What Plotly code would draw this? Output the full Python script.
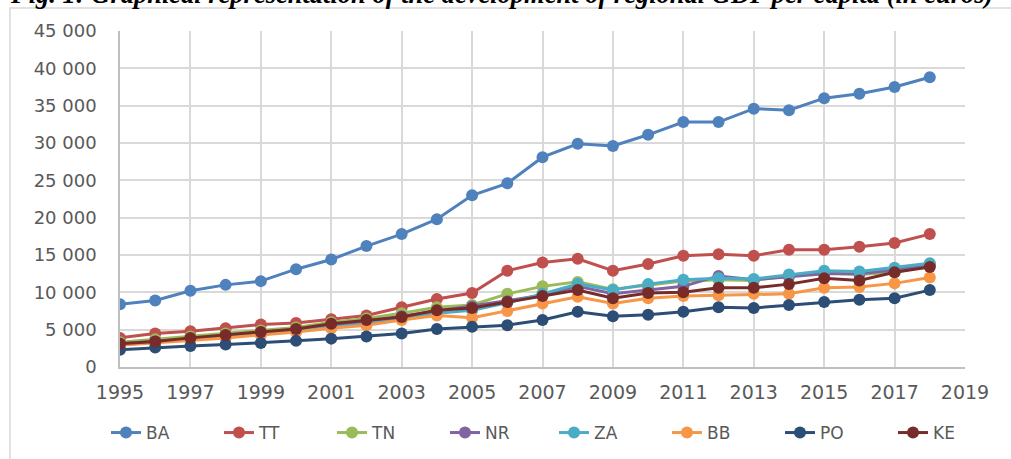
import plotly.graph_objects as go

years = list(range(1995, 2019))
BA = [8400, 8900, 10200, 11000, 11500, 13100, 14400, 16200, 17800, 19800, 23000, 24600, 28100, 29900, 29600, 31100, 32800, 32800, 34600, 34400, 36000, 36600, 37500, 38800]
TT = [3900, 4500, 4800, 5200, 5700, 5900, 6400, 6900, 8000, 9100, 9900, 12900, 14000, 14500, 12900, 13800, 14900, 15100, 14900, 15700, 15700, 16100, 16600, 17800]
TN = [3300, 3700, 4100, 4500, 4900, 5300, 6000, 6500, 7200, 8000, 8300, 9800, 10800, 11400, 10400, 10900, 11500, 11700, 11600, 12200, 12600, 12400, 12700, 13600]
NR = [3100, 3400, 3800, 4200, 4600, 5000, 5600, 6100, 6800, 7500, 8100, 8800, 9600, 10800, 9800, 10300, 10800, 12200, 11700, 12100, 12500, 12500, 13000, 13700]
ZA = [3000, 3300, 3700, 4000, 4400, 4800, 5300, 5800, 6500, 7200, 7600, 8600, 9800, 11100, 10300, 11100, 11700, 11900, 11800, 12400, 12900, 12800, 13300, 13900]
BB = [2900, 3200, 3600, 3900, 4300, 4700, 5200, 5600, 6300, 6900, 6600, 7500, 8500, 9400, 8500, 9200, 9500, 9600, 9800, 9800, 10600, 10700, 11200, 12000]
PO = [2300, 2600, 2800, 3000, 3200, 3500, 3800, 4100, 4500, 5100, 5400, 5600, 6300, 7400, 6800, 7000, 7400, 8000, 7900, 8300, 8700, 9000, 9200, 10300]
KE = [3100, 3400, 3900, 4300, 4700, 5100, 5800, 6300, 6700, 7600, 7900, 8700, 9500, 10300, 9200, 9900, 10000, 10600, 10600, 11100, 11900, 11600, 12700, 13400]

series = [("BA", BA, "#4F81BD"), ("TT", TT, "#C0504D"), ("TN", TN, "#9BBB59"),
          ("NR", NR, "#8064A2"), ("ZA", ZA, "#4BACC6"), ("BB", BB, "#F79646"),
          ("PO", PO, "#2C4D75"), ("KE", KE, "#772C2A")]

title_text = "Fig. 1: Graphical representation of the development of regional GDP per capita (in euros)"

fig = go.Figure()
for i, (name, vals, col) in enumerate(series):
    fig.add_trace(go.Scatter(x=years, y=vals, name=name, mode="lines+markers",
                             legend="legend" if i < 4 else "legend2",
                             line=dict(color=col, width=3),
                             marker=dict(color=col, size=12, symbol="circle")))

W, H = 1011, 459
L, R, T, B = 120, 46, 31, 92
pw, ph = W - L - R, H - T - B

def px_x(p):
    return (p - L) / pw

def px_y(p):
    return (H - B - p) / ph

leg_font = dict(family="DejaVu Sans", size=17, color="#595959")
leg_common = dict(orientation="h", xanchor="left", y=px_y(433), yanchor="middle",
                  entrywidth=68, entrywidthmode="pixels", font=leg_font,
                  bgcolor="rgba(0,0,0,0)", borderwidth=0)

fig.update_layout(
    width=W, height=H,
    margin=dict(l=L, r=R, t=T, b=B, autoexpand=False),
    paper_bgcolor="white", plot_bgcolor="white",
    separators=". ",
    font=dict(family="DejaVu Sans", size=17, color="#595959"),
    showlegend=True,
    legend=dict(x=px_x(106), **leg_common),
    legend2=dict(x=px_x(106 + 448), **leg_common),
    xaxis=dict(range=[1995, 2019], tick0=1995, dtick=2, showgrid=True,
               gridcolor="#d9d9d9", gridwidth=1.5, showline=True,
               linecolor="#bfbfbf", linewidth=1.5, ticks="", zeroline=False,
               ticklabelstandoff=7,
               tickfont=dict(family="DejaVu Sans", size=19, color="#595959")),
    yaxis=dict(range=[0, 45000], dtick=5000, tickformat=",d", showgrid=True,
               gridcolor="#d9d9d9", gridwidth=1.5, showline=True,
               linecolor="#bfbfbf", linewidth=1.5, ticks="", zeroline=False,
               ticklabelstandoff=18,
               tickfont=dict(family="DejaVu Sans", size=18, color="#595959")),
    shapes=[dict(type="rect", xref="paper", yref="paper",
                 x0=px_x(10), x1=px_x(1016), y0=px_y(464), y1=px_y(8),
                 line=dict(color="#d9d9d9", width=1.5), layer="below")],
    annotations=[dict(text="<b><i>" + title_text + "</i></b>", showarrow=False,
                      xref="paper", yref="paper", x=px_x(8), xanchor="left",
                      y=px_y(-6), yanchor="middle",
                      font=dict(family="Liberation Serif", size=26.5, color="black"))],
)

fig.write_html("out.html", config={"displayModeBar": False},
               post_script="document.body.style.margin='0px';")
